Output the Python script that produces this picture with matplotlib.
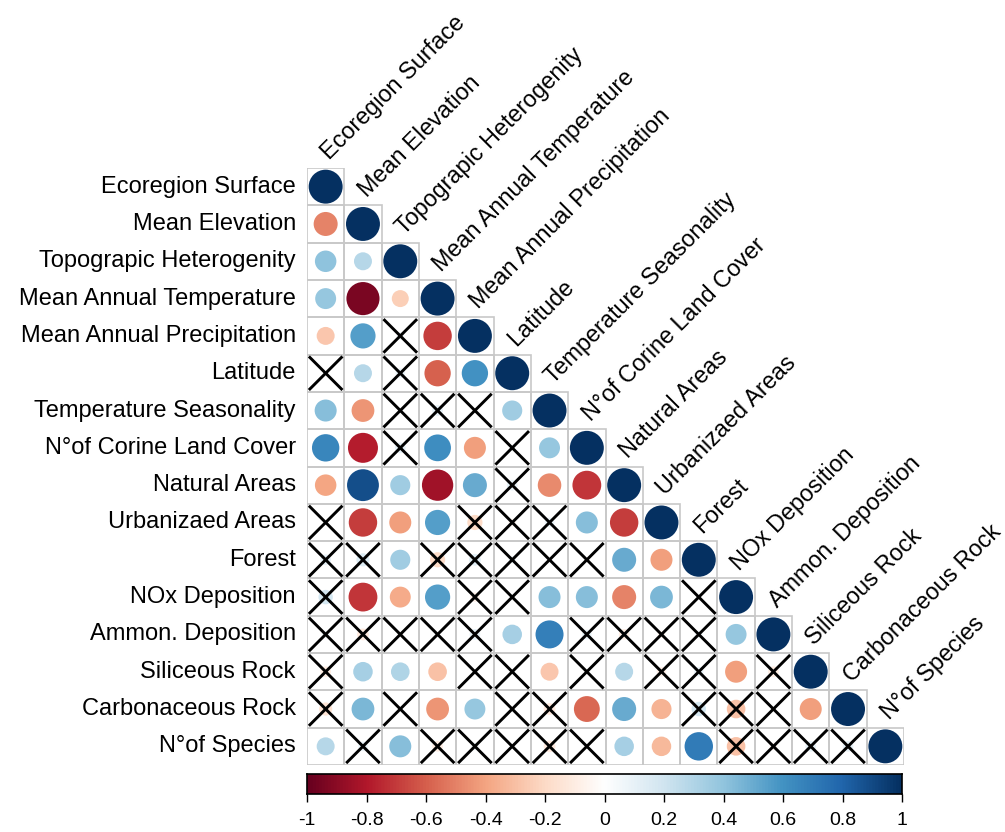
import matplotlib
matplotlib.use('Agg')
import matplotlib.pyplot as plt
from matplotlib.patches import Circle, Rectangle
from matplotlib.colors import LinearSegmentedColormap
import numpy as np

plt.rcParams['font.family'] = ['Liberation Sans', 'DejaVu Sans']

labels = ['Ecoregion Surface', 'Mean Elevation', 'Topograpic Heterogenity',
          'Mean Annual Temperature', 'Mean Annual Precipitation', 'Latitude',
          'Temperature Seasonality', 'N°of Corine Land Cover', 'Natural Areas',
          'Urbanizaed Areas', 'Forest', 'NOx Deposition', 'Ammon. Deposition',
          'Siliceous Rock', 'Carbonaceous Rock', 'N°of Species']

# lower triangle correlations, row i holds columns 0..i-1 (diagonal = 1)
corr_rows = [
    [],
    [-0.50],
    [0.40, 0.28],
    [0.38, -0.95, -0.25],
    [-0.28, 0.55, 0.05, -0.70],
    [0.00, 0.28, 0.08, -0.60, 0.60],
    [0.42, -0.45, 0.00, 0.10, 0.00, 0.35],
    [0.65, -0.78, 0.10, 0.62, -0.42, 0.03, 0.38],
    [-0.40, 0.88, 0.35, -0.85, 0.50, 0.10, -0.48, -0.72],
    [0.00, -0.70, -0.42, 0.55, -0.20, -0.05, 0.08, 0.42, -0.70],
    [0.10, 0.15, 0.35, -0.20, 0.12, 0.05, 0.00, -0.02, 0.50, -0.42],
    [0.18, -0.72, -0.38, 0.55, -0.08, 0.00, 0.42, 0.42, -0.50, 0.45, 0.00],
    [0.05, -0.12, -0.03, 0.00, 0.10, 0.33, 0.68, 0.08, -0.10, -0.05, 0.05, 0.38],
    [-0.10, 0.33, 0.30, -0.30, 0.00, 0.00, -0.28, 0.00, 0.28, -0.08, 0.08, -0.42, -0.10],
    [-0.15, 0.45, 0.00, -0.45, 0.38, 0.00, -0.12, -0.58, 0.50, -0.35, 0.18, -0.30, 0.00, -0.42],
    [0.28, 0.08, 0.42, -0.10, 0.05, 0.00, -0.12, 0.00, 0.33, -0.33, 0.70, -0.30, -0.05, 0.10, 0.10],
]

# 1 = not significant (crossed)
cross_rows = [
    [],
    [0],
    [0, 0],
    [0, 0, 0],
    [0, 0, 1, 0],
    [1, 0, 1, 0, 0],
    [0, 0, 1, 1, 1, 0],
    [0, 0, 1, 0, 0, 1, 0],
    [0, 0, 0, 0, 0, 1, 0, 0],
    [1, 0, 0, 0, 1, 1, 1, 0, 0],
    [1, 1, 0, 1, 1, 1, 1, 1, 0, 0],
    [1, 0, 0, 0, 1, 1, 0, 0, 0, 0, 1],
    [1, 1, 1, 1, 1, 0, 0, 1, 1, 1, 1, 0],
    [1, 0, 0, 0, 1, 1, 0, 1, 0, 1, 1, 0, 1],
    [1, 0, 1, 0, 0, 1, 1, 0, 0, 0, 1, 1, 1, 0],
    [0, 1, 0, 1, 1, 1, 1, 1, 0, 0, 0, 1, 1, 1, 1],
]

cb_ticks = [-1, -0.8, -0.6, -0.4, -0.2, 0, 0.2, 0.4, 0.6, 0.8, 1]
cb_labels = ['-1', '-0.8', '-0.6', '-0.4', '-0.2', '0', '0.2', '0.4', '0.6', '0.8', '1']

cmap = LinearSegmentedColormap.from_list('rdbu', [
    '#67001F', '#B2182B', '#D6604D', '#F4A582', '#FDDBC7', '#FFFFFF',
    '#D1E5F0', '#92C5DE', '#4393C3', '#2166AC', '#053061'], N=200)

n = len(labels)
W, H = 1005, 832
fig = plt.figure(figsize=(W / 100, H / 100), dpi=100)
ax = fig.add_axes([307 / W, (H - 765) / H, 597 / W, 597 / H])
ax.set_xlim(-0.5, n - 0.5)
ax.set_ylim(n - 0.5, -0.5)
ax.axis('off')

for i in range(n):
    vals = corr_rows[i] + [1.0]
    crs = cross_rows[i] + [0]
    for j in range(i + 1):
        r = vals[j]
        ax.add_patch(Rectangle((j - 0.5, i - 0.5), 1, 1, fill=False,
                               edgecolor='#C8C8C8', lw=1.2, zorder=1))
        ax.add_patch(Circle((j, i), 0.455 * np.sqrt(abs(r)),
                            facecolor=cmap((r + 1) / 2), edgecolor='none', zorder=2))
        if crs[j]:
            d = 0.45
            ax.plot([j - d, j + d], [i - d, i + d], color='black', lw=2.1, zorder=3,
                    solid_capstyle='butt')
            ax.plot([j - d, j + d], [i + d, i - d], color='black', lw=2.1, zorder=3,
                    solid_capstyle='butt')

for i, lab in enumerate(labels):
    ax.text(-0.8, i, lab, ha='right', va='center', fontsize=17, clip_on=False)
    ax.text(i + 0.1, i - 0.7, lab, ha='left', va='baseline', rotation=45,
            rotation_mode='anchor', fontsize=16.8, clip_on=False)

# colour legend
cax = fig.add_axes([307 / W, (H - 794) / H, 595 / W, 20 / H])
grad = np.linspace(-1, 1, 400).reshape(1, -1)
cax.imshow(grad, cmap=cmap, vmin=-1, vmax=1, aspect='auto', extent=[-1, 1, 0, 1])
cax.set_xlim(-1, 1)
cax.set_yticks([])
cax.set_xticks(cb_ticks)
cax.set_xticklabels(cb_labels, fontsize=14)
cax.tick_params(axis='x', length=6, width=1, pad=7, colors='black')
for s in cax.spines.values():
    s.set_linewidth(1.2)

fig.savefig('out.png', dpi=100)
